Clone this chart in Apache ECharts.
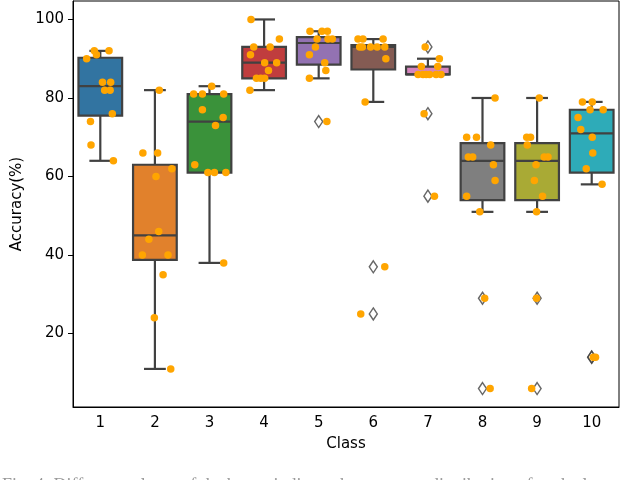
<!DOCTYPE html>
<html><head><meta charset="utf-8">
<script src="https://cdn.jsdelivr.net/npm/echarts@6/dist/echarts.min.js"></script>
<style>html,body{margin:0;padding:0;background:#fff}#c{width:640px;height:480px}</style>
</head><body><div id="c"></div>
<script>
const categories = ['1','2','3','4','5','6','7','8','9','10'];
const yTicks = [20, 40, 60, 80, 100];

const accuracy1 = [92, 92, 91, 90, 84, 84, 82, 82, 76, 74, 68, 64];
const accuracy2 = [82, 66, 66, 62, 60, 46, 44, 40, 40, 35, 24, 11];
const accuracy3 = [83, 81, 81, 81, 77, 75, 73, 63, 61, 61, 61, 38];
const accuracy4 = [100, 95, 93, 93, 91, 89, 89, 87, 85, 85, 85, 82];
const accuracy5 = [97, 97, 97, 95, 95, 95, 93, 91, 89, 87, 85, 74];
const accuracy6 = [95, 95, 95, 93, 93, 93, 93, 93, 90, 79, 37, 25];
const accuracy7 = [93, 90, 88, 88, 86, 86, 86, 86, 86, 86, 76, 55];
const accuracy8 = [80, 70, 70, 68, 65, 65, 63, 59, 55, 51, 29, 6];
const accuracy9 = [80, 70, 70, 68, 65, 65, 63, 59, 55, 51, 29, 6];
const accuracy10 = [79, 79, 77, 77, 75, 72, 70, 66, 62, 58, 14, 14];

const jitter1 = [-0.11, 0.16, -0.07, -0.25, 0.04, 0.19, 0.08, 0.18, 0.22, -0.18, -0.17, 0.24];
const jitter2 = [0.08, -0.22, 0.05, 0.31, 0.02, 0.07, -0.11, -0.23, 0.24, 0.15, -0.01, 0.29];
const jitter3 = [0.04, -0.29, -0.13, 0.26, -0.13, 0.25, 0.11, -0.27, -0.03, 0.09, 0.30, 0.26];
const jitter4 = [-0.24, 0.28, -0.19, 0.11, -0.25, 0.01, 0.23, 0.08, -0.14, 0.01, -0.06, -0.26];
const jitter5 = [-0.16, 0.06, 0.16, -0.03, 0.17, 0.25, -0.06, -0.17, 0.11, 0.13, -0.17, 0.15];
const jitter6 = [-0.28, -0.19, 0.18, -0.25, -0.20, -0.05, 0.21, 0.07, 0.23, -0.15, 0.21, -0.23];
const jitter7 = [-0.05, 0.21, -0.12, 0.18, -0.18, -0.09, 0.03, 0.15, 0.24, -0.03, -0.07, 0.12];
const jitter8 = [0.23, -0.29, -0.11, 0.15, -0.26, -0.18, 0.20, 0.23, -0.29, -0.05, 0.04, 0.14];
const jitter9 = [0.04, -0.19, -0.12, -0.18, 0.13, 0.20, -0.02, -0.05, 0.10, -0.01, -0.01, -0.10];
const jitter10 = [-0.17, 0.01, -0.03, 0.21, -0.25, -0.20, 0.01, 0.02, -0.10, 0.19, 0.03, 0.07];

const palette = ['#3274a1','#e1812c','#3a923a','#c03d3e','#9372b2','#845b53','#d684bd','#7f7f7f','#a9aa35','#2eabb8'];
const lineColor = '#414141';
const pointColor = '#ffa500';

const allValues = [accuracy1, accuracy2, accuracy3, accuracy4, accuracy5, accuracy6, accuracy7, accuracy8, accuracy9, accuracy10];
const allJitter = [jitter1, jitter2, jitter3, jitter4, jitter5, jitter6, jitter7, jitter8, jitter9, jitter10];

function quantile(s, p) {
  const pos = (s.length - 1) * p;
  const lo = Math.floor(pos), hi = Math.ceil(pos);
  return s[lo] + (s[hi] - s[lo]) * (pos - lo);
}

const boxData = [], flierData = [], pointData = [];
allValues.forEach((vals, i) => {
  const s = vals.slice().sort((a, b) => a - b);
  const q1 = quantile(s, 0.25), med = quantile(s, 0.5), q3 = quantile(s, 0.75);
  const iqr = q3 - q1;
  const lo = q1 - 1.5 * iqr, hi = q3 + 1.5 * iqr;
  const inside = s.filter(v => v >= lo && v <= hi);
  boxData.push([i, inside[0], q1, med, q3, inside[inside.length - 1]]);
  s.forEach(v => { if (v < lo || v > hi) flierData.push([i, v]); });
  vals.forEach((v, k) => pointData.push([i + allJitter[i][k], v]));
});

const font = 'DejaVu Sans';
const chart = echarts.init(document.getElementById('c'));
chart.setOption({
  animation: false,
  backgroundColor: '#fff',
  grid: { left: 73, right: 21, top: 1, bottom: 73, show: true, borderColor: '#000', borderWidth: 1, backgroundColor: 'transparent' },
  xAxis: [{
    type: 'category', data: categories, boundaryGap: true,
    name: 'Class', nameLocation: 'middle', nameGap: 30,
    nameTextStyle: { fontFamily: font, fontSize: 15, color: '#000' },
    axisLine: { onZero: false, lineStyle: { color: '#000', width: 1 } },
    axisTick: { alignWithLabel: true, length: 5, lineStyle: { color: '#000' } },
    axisLabel: { fontFamily: font, fontSize: 15, color: '#000', margin: 9 },
    splitLine: { show: false }
  }, {
    type: 'value', min: -0.5, max: 9.5, show: false
  }],
  yAxis: {
    type: 'value', min: 1.3, max: 104.7,
    name: 'Accuracy(%)', nameLocation: 'middle', nameGap: 40, nameRotate: 90,
    nameTextStyle: { fontFamily: font, fontSize: 15, color: '#000' },
    axisLine: { show: true, onZero: false, lineStyle: { color: '#000', width: 1 } },
    axisTick: { show: true, length: 5, customValues: yTicks, lineStyle: { color: '#000' } },
    axisLabel: { fontFamily: font, fontSize: 15, color: '#000', margin: 9, customValues: yTicks },
    splitLine: { show: false }
  },
  graphic: [{
    type: 'text', left: 2, top: 477,
    style: { text: 'Fig. 4: Different colours of the boxes indicate the accuracy distribution of each class.', font: '18px "Liberation Serif"', fill: '#999' }
  }],
  series: [{
    type: 'custom', xAxisIndex: 0, yAxisIndex: 0, z: 2,
    data: boxData,
    encode: { x: 0, y: [1, 2, 3, 4, 5] },
    renderItem: function (params, api) {
      const i = api.value(0);
      const bw = api.size([1, 0])[0] * 0.8;
      const capHalf = bw * 0.25;
      const cx = api.coord([i, api.value(3)])[0];
      const yMin = api.coord([i, api.value(1)])[1];
      const yQ1 = api.coord([i, api.value(2)])[1];
      const yMed = api.coord([i, api.value(3)])[1];
      const yQ3 = api.coord([i, api.value(4)])[1];
      const yMax = api.coord([i, api.value(5)])[1];
      const st = { stroke: lineColor, lineWidth: 2.2 };
      return {
        type: 'group',
        children: [
          { type: 'line', shape: { x1: cx, y1: yQ3, x2: cx, y2: yMax }, style: st },
          { type: 'line', shape: { x1: cx, y1: yQ1, x2: cx, y2: yMin }, style: st },
          { type: 'line', shape: { x1: cx - capHalf, y1: yMax, x2: cx + capHalf, y2: yMax }, style: st },
          { type: 'line', shape: { x1: cx - capHalf, y1: yMin, x2: cx + capHalf, y2: yMin }, style: st },
          { type: 'rect', shape: { x: cx - bw / 2, y: yQ3, width: bw, height: yQ1 - yQ3 }, style: { fill: palette[i], stroke: lineColor, lineWidth: 2.2 } },
          { type: 'line', shape: { x1: cx - bw / 2, y1: yMed, x2: cx + bw / 2, y2: yMed }, style: st }
        ]
      };
    }
  }, {
    type: 'scatter', xAxisIndex: 1, yAxisIndex: 0, z: 3,
    data: flierData,
    symbol: 'diamond', symbolSize: [8, 12],
    itemStyle: { color: 'rgba(0,0,0,0)', borderColor: lineColor, borderWidth: 1.5 },
    silent: true
  }, {
    type: 'scatter', xAxisIndex: 1, yAxisIndex: 0, z: 4,
    data: pointData,
    symbol: 'circle', symbolSize: 7.5,
    itemStyle: { color: pointColor, opacity: 1 },
    silent: true
  }]
});
</script>
</body></html>
